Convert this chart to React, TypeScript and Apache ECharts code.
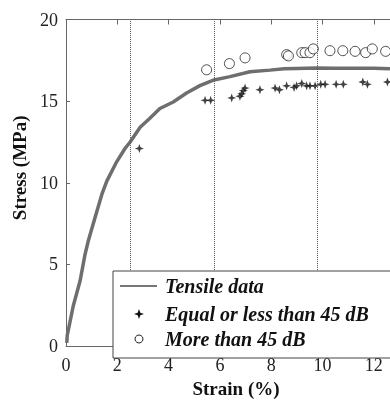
import React, { useEffect, useRef } from "react";
import * as echarts from "echarts";

// Tensile curve
const curveStrain = [0.03, 0.05, 0.28, 0.55, 0.74, 0.87, 1.13, 1.4, 1.59, 1.98, 2.3, 2.5, 2.89, 3.27, 3.66, 4.18, 4.7, 5.22, 5.77, 6.39, 7.17, 7.95, 8.5, 8.99, 9.77, 10.5, 11.33, 12.0, 12.63];
const curveStress = [0.2, 0.67, 2.44, 4.0, 5.6, 6.45, 7.86, 9.3, 10.1, 11.3, 12.1, 12.5, 13.4, 13.95, 14.55, 14.95, 15.5, 15.95, 16.3, 16.5, 16.8, 16.9, 16.98, 17.0, 17.03, 17.02, 17.01, 17.02, 16.98];

// Equal or less than 45 dB
const lowStrain = [2.86, 5.42, 5.64, 6.46, 6.78, 6.85, 6.91, 6.98, 7.56, 8.15, 8.32, 8.6, 8.89, 8.99, 9.19, 9.38, 9.51, 9.71, 9.93, 10.1, 10.53, 10.81, 11.57, 11.75, 12.53];
const lowStress = [12.1, 15.05, 15.05, 15.2, 15.3, 15.45, 15.64, 15.8, 15.7, 15.8, 15.7, 15.94, 15.84, 15.94, 16.08, 15.94, 15.94, 15.94, 16.03, 16.03, 16.03, 16.03, 16.17, 16.03, 16.17];

// More than 45 dB
const highStrain = [5.48, 6.37, 6.98, 8.6, 8.67, 9.19, 9.32, 9.51, 9.64, 10.29, 10.79, 11.27, 11.68, 11.94, 12.46];
const highStress = [16.92, 17.3, 17.65, 17.85, 17.77, 17.97, 17.97, 17.97, 18.2, 18.09, 18.09, 18.05, 17.97, 18.2, 18.05];

// Dotted vertical divider positions (strain)
const dividers = [2.5, 5.77, 9.81];

const legendLabels = ["Tensile data", "Equal or less than 45 dB", "More than 45 dB"];
const xTitle = "Strain (%)";
const yTitle = "Stress (MPa)";

const FONT = "Liberation Serif";
const STAR = "path://M0,-10 L2.6,-2.6 L10,0 L2.6,2.6 L0,10 L-2.6,2.6 L-10,0 L-2.6,-2.6 Z";

export default function App() {
  const ref = useRef<HTMLDivElement>(null);
  useEffect(() => {
    if (!ref.current) return;
    const chart = echarts.init(ref.current, undefined, { renderer: "svg" });
    const xMin = 0, xMax = 12.63;
    const lx = 139;
    const rows = [286, 314, 339];
    const mkAxisLine = () => ({ show: true, lineStyle: { color: "#666", width: 1 } });
    chart.setOption({
      animation: false,
      grid: { left: 66, right: 0, top: 19.5, bottom: 45, containLabel: false },
      xAxis: [
        {
          type: "value", min: xMin, max: xMax, interval: 2, position: "bottom",
          axisLine: mkAxisLine(), axisTick: { show: true, inside: true, length: 5, lineStyle: { color: "#666" } },
          axisLabel: { color: "#222", fontFamily: FONT, fontSize: 18, margin: 10 },
          splitLine: { show: false },
          name: xTitle, nameLocation: "middle", nameGap: 25,
          nameTextStyle: { color: "#111", fontFamily: FONT, fontSize: 19, fontWeight: "bold", padding: [0, 0, 0, 16] },
        },
        {
          type: "value", min: xMin, max: xMax, interval: 2, position: "top",
          axisLine: mkAxisLine(), axisTick: { show: true, inside: true, length: 5, lineStyle: { color: "#666" } },
          axisLabel: { show: false }, splitLine: { show: false },
        },
      ],
      yAxis: {
        type: "value", min: 0, max: 20, interval: 5,
        axisLine: mkAxisLine(), axisTick: { show: true, inside: true, length: 4, lineStyle: { color: "#666" } },
        axisLabel: { color: "#222", fontFamily: FONT, fontSize: 18, margin: 8 },
        splitLine: { show: false },
        name: yTitle, nameLocation: "middle", nameGap: 33,
        nameTextStyle: { color: "#111", fontFamily: FONT, fontSize: 19, fontWeight: "bold", padding: [0, 0, 0, 30] },
      },
      series: [
        {
          type: "line", name: legendLabels[0],
          data: curveStrain.map((x, i) => [x, curveStress[i]]),
          symbol: "none", lineStyle: { color: "#6e6e6e", width: 3.5 },
          z: 2,
          markLine: {
            silent: true, symbol: "none", label: { show: false },
            lineStyle: { type: "dotted", color: "#555", width: 1 },
            data: dividers.map((d) => ({ xAxis: d })),
          },
        },
        {
          type: "scatter", name: legendLabels[1],
          data: lowStrain.map((x, i) => [x, lowStress[i]]),
          symbol: STAR, symbolSize: 9,
          itemStyle: { color: "#111" }, z: 3,
        },
        {
          type: "scatter", name: legendLabels[2],
          data: highStrain.map((x, i) => [x, highStress[i]]),
          symbol: "circle", symbolSize: 10,
          itemStyle: { color: "#fff", borderColor: "#222", borderWidth: 1 }, z: 3,
        },
      ],
      graphic: [
        {
          type: "rect", z: 100,
          shape: { x: 113, y: 271, width: 300, height: 87 },
          style: { fill: "#fff", stroke: "#444", lineWidth: 1 },
        },
        {
          type: "line", z: 101,
          shape: { x1: 120, y1: rows[0], x2: 157, y2: rows[0] },
          style: { stroke: "#777", lineWidth: 2 },
        },
        {
          type: "polygon", z: 101,
          shape: {
            points: [
              [lx, rows[1] - 5], [lx + 1.3, rows[1] - 1.3], [lx + 5, rows[1]], [lx + 1.3, rows[1] + 1.3],
              [lx, rows[1] + 5], [lx - 1.3, rows[1] + 1.3], [lx - 5, rows[1]], [lx - 1.3, rows[1] - 1.3],
            ],
          },
          style: { fill: "#111" },
        },
        {
          type: "circle", z: 101,
          shape: { cx: lx, cy: rows[2], r: 4 },
          style: { fill: "#fff", stroke: "#222", lineWidth: 1 },
        },
        ...legendLabels.map((t, i) => ({
          type: "text", z: 101, x: 165, y: rows[i],
          style: {
            text: t, fill: "#111", fontFamily: FONT, fontSize: 20, fontWeight: "bold", fontStyle: "italic",
            verticalAlign: "middle", align: "left",
          },
        })),
      ],
    });
    return () => chart.dispose();
  }, []);
  return <div ref={ref} style={{ position: "fixed", left: 0, top: 0, width: 390, height: 403 }} />;
}
